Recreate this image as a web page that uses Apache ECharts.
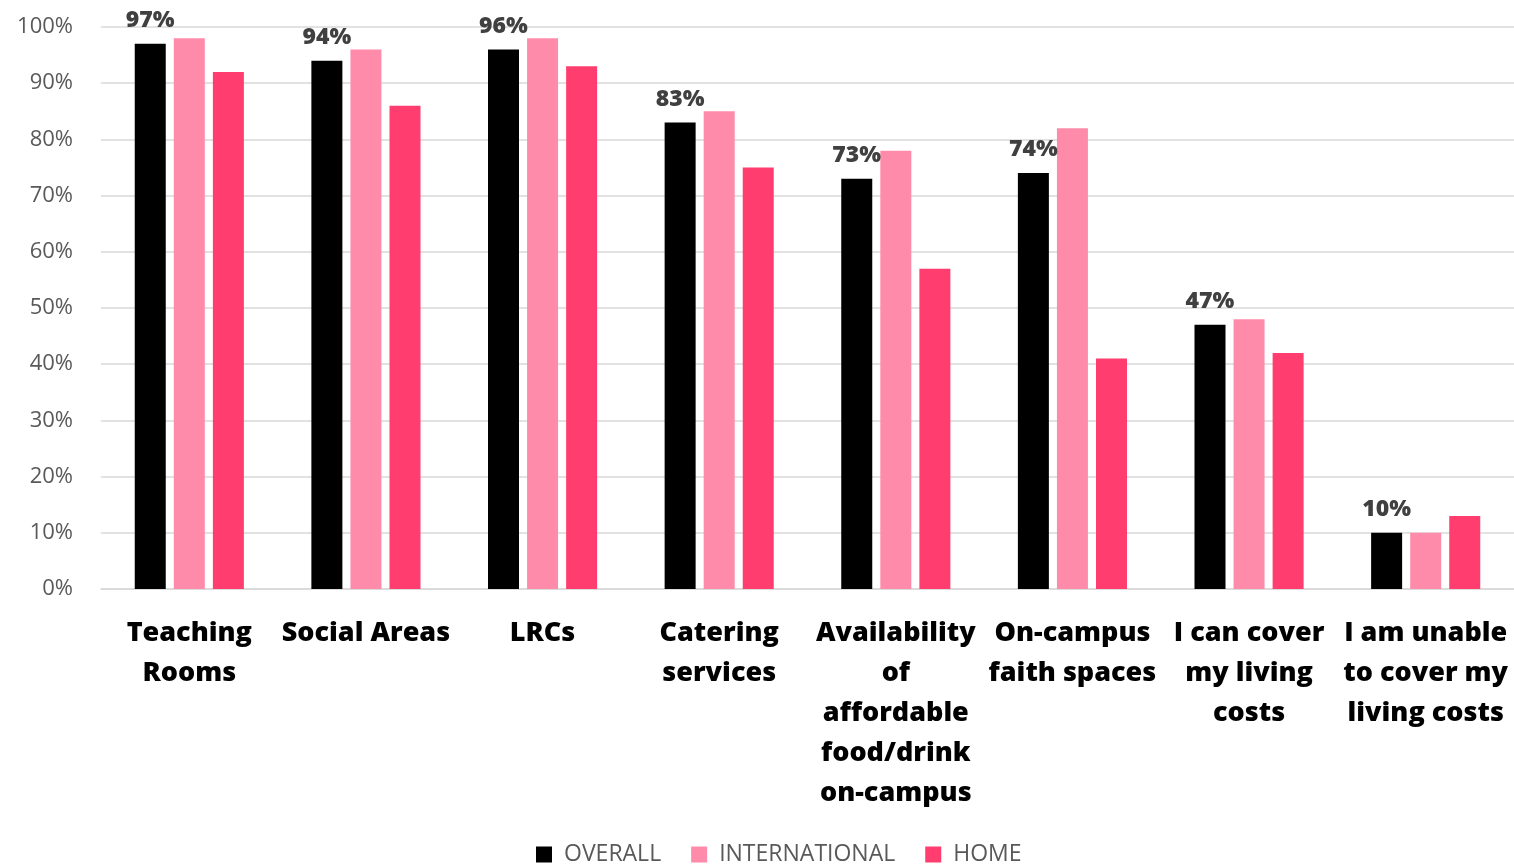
<!DOCTYPE html>
<html>
<head>
<meta charset="utf-8">
<script src="https://cdn.jsdelivr.net/npm/echarts@6/dist/echarts.min.js"></script>
<style>html,body{margin:0;padding:0;background:#fff}#c{width:1514px;height:864px}</style>
</head>
<body>
<div id="c"></div>
<script>
const categories = ["Teaching\nRooms", "Social Areas", "LRCs", "Catering\nservices", "Availability\nof\naffordable\nfood/drink\non-campus", "On-campus\nfaith spaces", "I can cover\nmy living\ncosts", "I am unable\nto cover my\nliving costs"];
const overall = [97, 94, 96, 83, 73, 74, 47, 10];
const international = [98, 96, 98, 85, 78, 82, 48, 10];
const home = [92, 86, 93, 75, 57, 41, 42, 13];
const yTicks = [0, 10, 20, 30, 40, 50, 60, 70, 80, 90, 100];

const chart = echarts.init(document.getElementById('c'));
chart.setOption({
  animation: false,
  grid: {left: 101, right: 0, top: 27, bottom: 275},
  legend: {
    bottom: -7, left: 531,
    itemWidth: 16, itemHeight: 16, itemGap: 30,
    icon: 'rect',
    textStyle: {fontFamily: 'Open Sans', fontSize: 23, color: '#595959', fontWeight: 'normal', padding: [0, 0, 0, 7]},
    data: ['OVERALL', 'INTERNATIONAL', 'HOME']
  },
  xAxis: {
    type: 'category', data: categories,
    axisLine: {show: true, lineStyle: {color: '#D9D9D9', width: 1.5}},
    axisTick: {show: false},
    axisLabel: {interval: 0, margin: 24, fontFamily: 'Open Sans', fontWeight: 800, fontSize: 27, lineHeight: 40, color: '#000'}
  },
  yAxis: {
    type: 'value', min: 0, max: 100, interval: 10,
    axisLine: {show: false}, axisTick: {show: false},
    splitLine: {lineStyle: {color: '#D9D9D9', width: 1.5}},
    axisLabel: {margin: 28, fontFamily: 'Open Sans', fontSize: 22, color: '#595959', formatter: v => yTicks.includes(v) ? v + '%' : ''}
  },
  series: [
    {name: 'OVERALL', type: 'bar', data: overall, barWidth: 31, barGap: '26%', itemStyle: {color: '#000000'},
     label: {show: true, position: 'top', distance: 12, formatter: '{c}%', fontFamily: 'Open Sans', fontWeight: 800, fontSize: 23, color: '#404040'}},
    {name: 'INTERNATIONAL', type: 'bar', data: international, barWidth: 31, barGap: '26%', itemStyle: {color: '#FF8BAA'}},
    {name: 'HOME', type: 'bar', data: home, barWidth: 31, barGap: '26%', itemStyle: {color: '#FF3D6E'}}
  ]
});
</script>
</body>
</html>
